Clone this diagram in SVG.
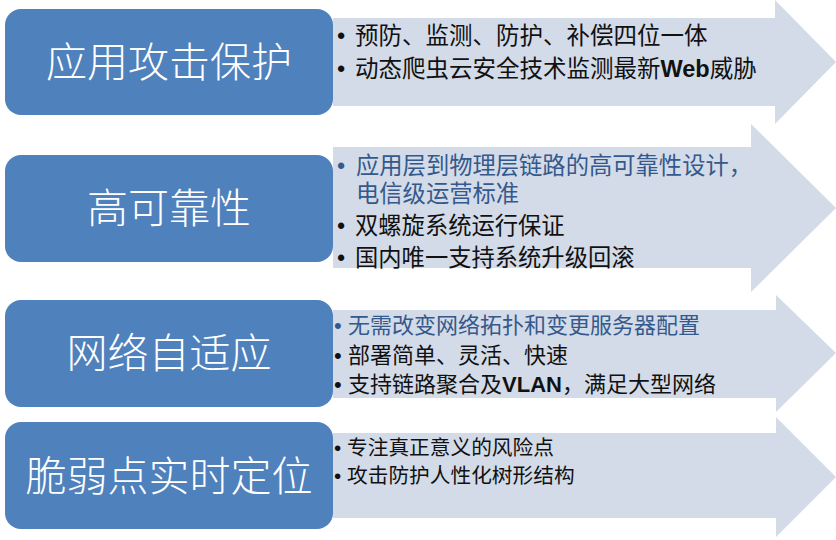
<svg xmlns="http://www.w3.org/2000/svg" width="836" height="540" viewBox="0 0 836 540">
<style>
.box{fill:#4f81bd}
.arr{fill:#d3dbe8}
.lbl{font-family:"Liberation Sans","Noto Sans CJK SC",sans-serif;font-size:41px;font-weight:300;fill:#ffffff;text-anchor:middle}
.t{font-family:"Liberation Sans","Noto Sans CJK SC",sans-serif;fill:#111111}
.b{fill:#34598c}
.lat{font-weight:bold}
</style>
<rect width="836" height="540" fill="#ffffff"/>
<g id="connectors">
<polygon class="arr" points="333,18 775,18 775,0 836,62 775,124 775,106 333,106"/>
<polygon class="arr" points="333,147 751,147 751,124 836,208 751,292 751,268 333,268"/>
<polygon class="arr" points="333,310 776,310 776,295 836,353 776,412 776,398 333,398"/>
<polygon class="arr" points="333,433 776,433 776,417 836,477 776,537 776,518 333,518"/>
</g>
<g id="node1">
<rect class="box" x="5" y="9" width="328" height="106" rx="16"/>
<text class="lbl" x="169" y="77">应用攻击保护</text>
<g class="t" font-size="23.5">
<text x="337" y="44">•</text><text x="355" y="44">预防、监测、防护、补偿四位一体</text>
<text x="337" y="76.5">•</text><text x="355" y="76.5">动态爬虫云安全技术监测最新<tspan class="lat">Web</tspan>威胁</text>
</g>
</g>
<g id="node2">
<rect class="box" x="5" y="155" width="328" height="107" rx="16"/>
<text class="lbl" x="169" y="223">高可靠性</text>
<g class="t" font-size="23.3">
<text class="b" x="337" y="174">•</text><text class="b" x="356" y="174">应用层到物理层链路的高可靠性设计，</text>
<text class="b" x="356" y="202">电信级运营标准</text>
<text x="337" y="234">•</text><text x="355" y="234">双螺旋系统运行保证</text>
<text x="337" y="266">•</text><text x="355" y="266">国内唯一支持系统升级回滚</text>
</g>
</g>
<g id="node3">
<rect class="box" x="5" y="300" width="328" height="107" rx="16"/>
<text class="lbl" x="169" y="368">网络自适应</text>
<g class="t" font-size="22">
<text class="b" x="334" y="332.5">•</text><text class="b" x="348" y="332.5">无需改变网络拓扑和变更服务器配置</text>
<text x="334" y="362.5">•</text><text x="348" y="362.5">部署简单、灵活、快速</text>
<text x="334" y="391.5">•</text><text x="348" y="391.5">支持链路聚合及<tspan class="lat">VLAN</tspan>，满足大型网络</text>
</g>
</g>
<g id="node4">
<rect class="box" x="5" y="422" width="328" height="107" rx="16"/>
<text class="lbl" x="169" y="491">脆弱点实时定位</text>
<g class="t" font-size="20.7">
<text x="334" y="455">•</text><text x="347" y="455">专注真正意义的风险点</text>
<text x="334" y="483">•</text><text x="347" y="483">攻击防护人性化树形结构</text>
</g>
</g>
</svg>
